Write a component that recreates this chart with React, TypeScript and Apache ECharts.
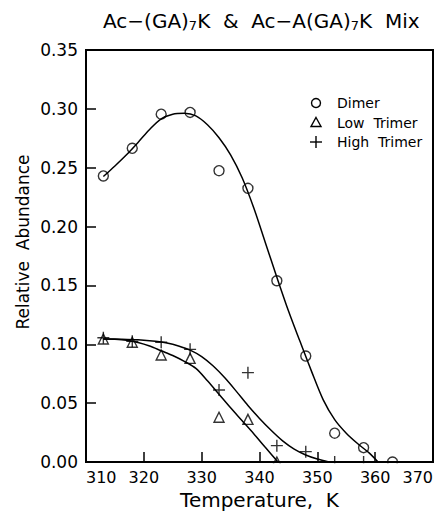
import React, { useEffect, useRef } from "react";
import * as echarts from "echarts";

// Measured points
const dimerT = [313, 318, 323, 328, 333, 338, 343, 348, 353, 358, 363];
const dimerV = [0.243, 0.2665, 0.2955, 0.297, 0.2475, 0.2325, 0.154, 0.09, 0.0245, 0.0122, 0.0];
const lowT = [313, 318, 323, 328, 333, 338, 343];
const lowV = [0.1045, 0.1017, 0.0909, 0.088, 0.038, 0.0362, 0.0];
const highT = [313, 318, 323, 328, 333, 338, 343, 348, 353, 358];
const highV = [0.1055, 0.1025, 0.1017, 0.0957, 0.0612, 0.0759, 0.0139, 0.0088, 0.0, 0.0];

// Fitted curves
const dimerFitT = [313, 315, 317, 319, 321, 323, 325, 327, 329, 331, 333, 335, 337, 339, 341, 343, 345, 347, 349, 351, 353, 355, 357, 359, 360.5];
const dimerFitV = [0.2425, 0.2515, 0.261, 0.2715, 0.2825, 0.2915, 0.2955, 0.2962, 0.294, 0.2865, 0.2755, 0.261, 0.2415, 0.216, 0.1865, 0.157, 0.1285, 0.1025, 0.077, 0.053, 0.036, 0.0245, 0.0155, 0.0075, 0];
const lowFitT = [313, 315, 317, 319, 321, 323, 325, 327, 329, 331, 333, 335, 337, 339, 341, 343.2];
const lowFitV = [0.1045, 0.1043, 0.1035, 0.1015, 0.0985, 0.0945, 0.0905, 0.0855, 0.0795, 0.069, 0.0575, 0.046, 0.035, 0.024, 0.0125, 0];
const highFitT = [313, 316, 319, 322, 324, 326, 328, 330, 332, 334, 336, 338, 340, 342, 344, 346, 348, 350, 352];
const highFitV = [0.1045, 0.1043, 0.1038, 0.1025, 0.101, 0.0985, 0.095, 0.0895, 0.0815, 0.0715, 0.06, 0.048, 0.037, 0.027, 0.018, 0.011, 0.006, 0.0025, 0];

const seriesNames = ["Dimer", "Low  Trimer", "High  Trimer"];
const xMin = 310, xMax = 370, xStep = 10;
const yMin = 0, yMax = 0.35, yStep = 0.05;

const FONT = "DejaVu Sans";
const zip = (a: number[], b: number[]) => a.map((t, i) => [t, b[i]]);
const PLUS = "path://M6,0L6,12M0,6L12,6";

export default function App() {
  const ref = useRef<HTMLDivElement>(null);
  useEffect(() => {
    if (!ref.current) return;
    const chart = echarts.init(ref.current, null, { renderer: "svg" });
    const markerStyle = { color: "rgba(0,0,0,0)", borderColor: "#000", borderWidth: 1.4 };
    const lineStyle = { color: "#000", width: 1.5 };
    const fitLine = (d: number[][]) => ({
      type: "line", data: d, smooth: 0.3, symbol: "none", lineStyle, z: 2, silent: true,
    });
    const legendSymbols = ["circle", "triangle", "plus"];
    const legendGraphics: any[] = [];
    seriesNames.forEach((n, i) => {
      const cx = 316, cy = 103 + i * 19.5;
      const s = legendSymbols[i];
      if (s === "circle") {
        legendGraphics.push({ type: "circle", shape: { cx, cy, r: 4.5 }, style: { fill: "none", stroke: "#000", lineWidth: 1.4 } });
      } else if (s === "triangle") {
        legendGraphics.push({ type: "polygon", shape: { points: [[cx, cy - 5], [cx + 5, cy + 4], [cx - 5, cy + 4]] }, style: { fill: "none", stroke: "#000", lineWidth: 1.4 } });
      } else {
        legendGraphics.push({ type: "line", shape: { x1: cx - 6, y1: cy, x2: cx + 6, y2: cy }, style: { stroke: "#000", lineWidth: 1.4 } });
        legendGraphics.push({ type: "line", shape: { x1: cx, y1: cy - 6, x2: cx, y2: cy + 6 }, style: { stroke: "#000", lineWidth: 1.4 } });
      }
      legendGraphics.push({ type: "text", x: 337, y: cy, style: { text: n, fontSize: 14, fontFamily: FONT, fill: "#000", verticalAlign: "middle" } });
    });

    chart.setOption({
      animation: false,
      backgroundColor: "#fff",
      title: {
        text: "Ac−(GA){sub|7}K  &  Ac−A(GA){sub|7}K  Mix",
        left: 98,
        top: 5,
        textStyle: {
          fontFamily: FONT, fontSize: 20, fontWeight: "normal", color: "#000",
          rich: { sub: { fontFamily: FONT, fontSize: 13, verticalAlign: "bottom", padding: [9, 0, 0, 0], color: "#000" } },
        },
      },
      grid: { left: 86, right: 5, top: 50, bottom: 50, show: true, borderColor: "#000", borderWidth: 2, outerBoundsMode: "none" },
      xAxis: {
        type: "value", min: xMin, max: xMax, interval: xStep,
        axisLine: { show: true, lineStyle: { color: "#000", width: 2 } },
        axisTick: { inside: true, length: 10, lineStyle: { color: "#000", width: 1.5 } },
        splitLine: { show: false },
        axisLabel: { color: "#000", fontFamily: FONT, fontSize: 16, margin: 7, alignMinLabel: "left", alignMaxLabel: "right" },
        name: "Temperature,  K", nameLocation: "middle", nameGap: 28,
        nameTextStyle: { color: "#000", fontFamily: FONT, fontSize: 20 },
      },
      yAxis: {
        type: "value", min: yMin, max: yMax, interval: yStep,
        axisLine: { show: true, lineStyle: { color: "#000", width: 2 } },
        axisTick: { inside: true, length: 10, lineStyle: { color: "#000", width: 1.5 } },
        splitLine: { show: false },
        axisLabel: { color: "#000", fontFamily: FONT, fontSize: 17, margin: 8, formatter: (v: number) => v.toFixed(2) },
      },
      graphic: [
        { type: "text", x: 23, y: 242, rotation: Math.PI / 2, style: { text: "Relative  Abundance", fontSize: 17, fontFamily: FONT, fill: "#000", align: "center", verticalAlign: "middle" } },
        // mask marker parts that spill below the x axis
        { type: "rect", z: 50, shape: { x: 87, y: 463.2, width: 346, height: 6 }, style: { fill: "#fff" } },
        ...legendGraphics,
      ],
      series: [
        fitLine(zip(dimerFitT, dimerFitV)),
        fitLine(zip(lowFitT, lowFitV)),
        fitLine(zip(highFitT, highFitV)),
        { name: seriesNames[0], type: "scatter", symbol: "circle", symbolSize: 10, data: zip(dimerT, dimerV), itemStyle: markerStyle, z: 3 },
        { name: seriesNames[1], type: "scatter", symbol: "triangle", symbolSize: 10, data: zip(lowT, lowV), itemStyle: markerStyle, z: 3 },
        { name: seriesNames[2], type: "scatter", symbol: PLUS, symbolSize: 12, data: zip(highT, highV), itemStyle: { color: "none", borderColor: "#000", borderWidth: 1.4 }, z: 3 },
      ],
    });
    return () => chart.dispose();
  }, []);
  return <div ref={ref} style={{ position: "fixed", left: 0, top: 0, width: 438, height: 512 }} />;
}
